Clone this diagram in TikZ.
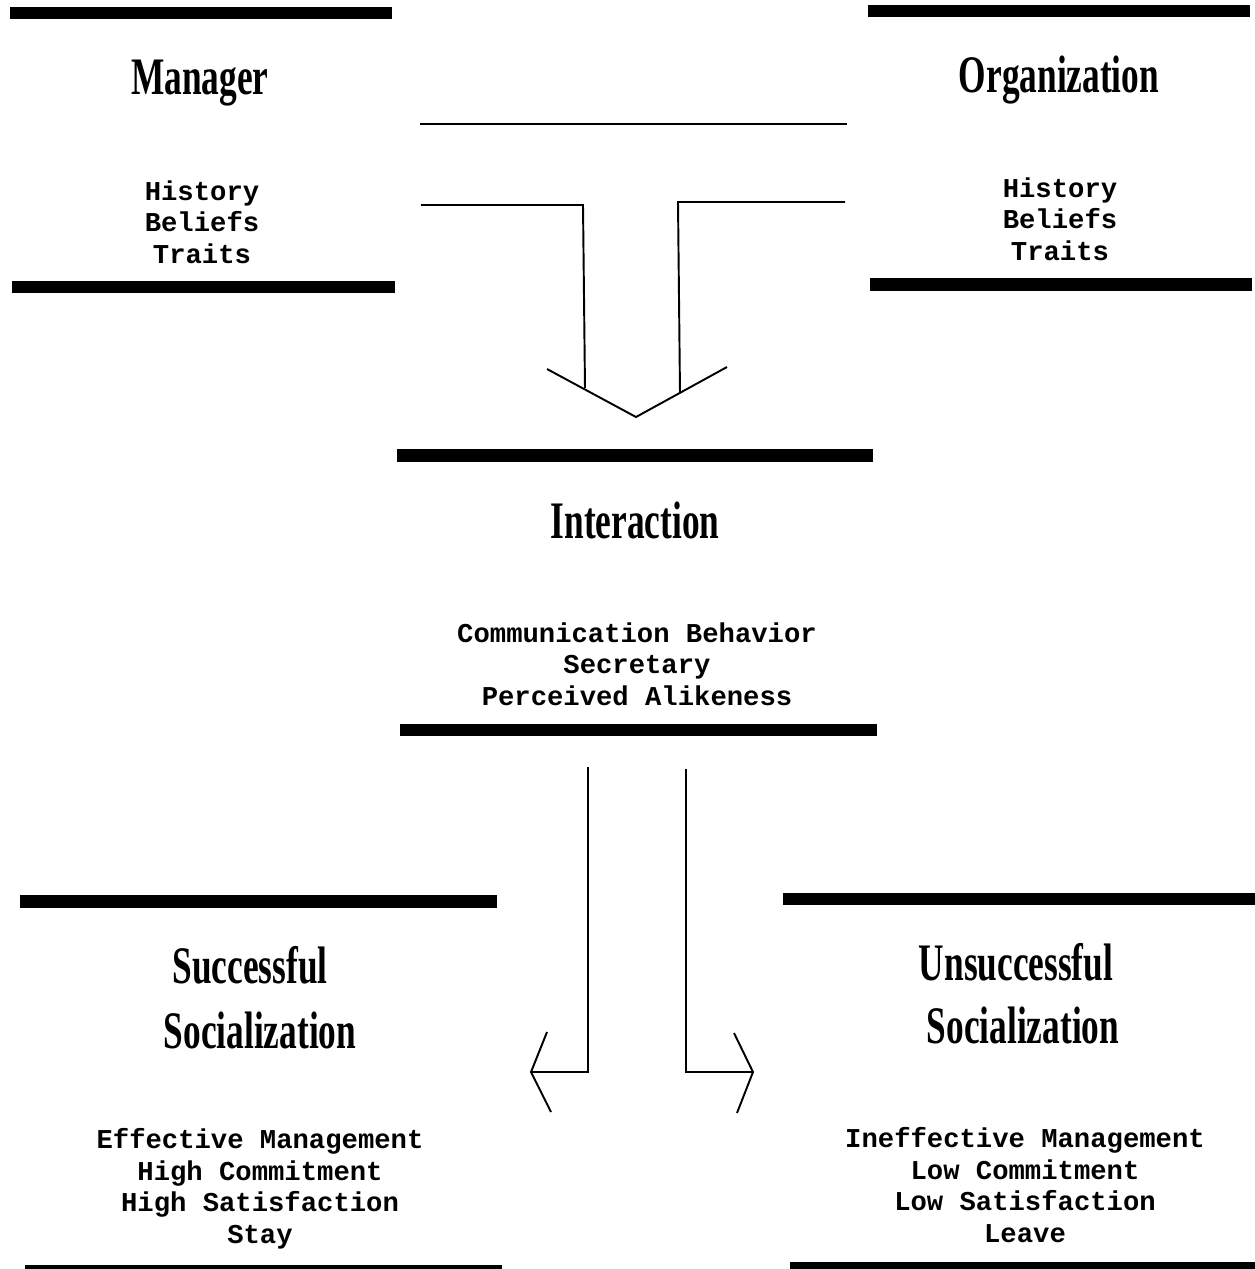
\documentclass[tikz,border=0pt]{standalone}
\usepackage{fontspec}
\newfontfamily\headfont{Liberation Serif}[FakeStretch=0.67]
\newfontfamily\listfont{Liberation Mono}
\tikzset{
  heading/.style={font=\headfont\bfseries\fontsize{30}{30}\selectfont, inner sep=0pt, anchor=base},
  entries/.style={font=\listfont\bfseries\fontsize{15.5}{17.9}\selectfont, align=center, inner sep=0pt, anchor=base},
  bar/.style={fill=black},
  link/.style={line width=1.1pt, line join=miter},
}

\begin{document}
\begin{tikzpicture}[x=0.02cm, y=-0.02cm]
\useasboundingbox (0,0) rectangle (1255,1269);

% Manager
\fill[bar] (10,7) rectangle (392,19);
\fill[bar] (12,281) rectangle (395,293);
\node[heading] (manager) at (200,94) {Manager};
\node[entries] (managerlist) at (202,263) {History\\Beliefs\\Traits};

% Organization
\fill[bar] (868,5) rectangle (1250,17);
\node[heading] (organization) at (1059,92) {Organization};
\node[entries] (organizationlist) at (1060,260) {History\\Beliefs\\Traits};
\fill[bar] (870,278) rectangle (1252,291);

% Interaction
\fill[bar] (397,449) rectangle (873,462);
\node[heading] (interaction) at (635,538) {Interaction};
\node[entries] (interactionlist) at (637,705) {Communication Behavior\\Secretary\\Perceived Alikeness};
\fill[bar] (400,724) rectangle (877,736);

% Successful socialization
\fill[bar] (20,895) rectangle (497,908);
\node[heading] (successful) at (250,983) {Successful};
\node[heading] (successful2) at (260,1048) {Socialization};
\node[entries] (successfullist) at (260,1243) {Effective Management\\High Commitment\\High Satisfaction\\Stay};
\fill[bar] (25,1265) rectangle (502,1269);

% Unsuccessful socialization
\fill[bar] (783,893) rectangle (1255,905);
\node[heading] (unsuccessful) at (1016,980) {Unsuccessful};
\node[heading] (unsuccessful2) at (1023,1043) {Socialization};
\node[entries] (unsuccessfullist) at (1025,1242) {Ineffective Management\\Low Commitment\\Low Satisfaction\\Leave};
\fill[bar] (790,1262) rectangle (1255,1269);

% upper arrow
\coordinate (ta) at (420,124);
\coordinate (tb) at (847,124);
\coordinate (la) at (421,205);
\coordinate (lb) at (583,205);
\coordinate (lc) at (585,388);
\coordinate (ra) at (845,202);
\coordinate (rb) at (678,202);
\coordinate (rc) at (680,393);
\coordinate (hl) at (547,369);
\coordinate (tip) at (636,417);
\coordinate (hr) at (727,367);
\draw[link] (ta) -- (tb);
\draw[link] (la) -- (lb) -- (lc);
\draw[link] (ra) -- (rb) -- (rc);
\draw[link] (hl) -- (tip) -- (hr);

% lower arrows
\coordinate (sa) at (588,767);
\coordinate (sb) at (588,1072);
\coordinate (stip) at (531,1072);
\coordinate (su) at (547,1032);
\coordinate (sd) at (551,1112);
\coordinate (ua) at (686,769);
\coordinate (ub) at (686,1072);
\coordinate (utip) at (753,1072);
\coordinate (uu) at (734,1033);
\coordinate (ud) at (737,1113);
\draw[link] (sa) -- (sb) -- (stip);
\draw[link] (su) -- (stip) -- (sd);
\draw[link] (ua) -- (ub) -- (utip);
\draw[link] (uu) -- (utip) -- (ud);
\end{tikzpicture}
\end{document}
